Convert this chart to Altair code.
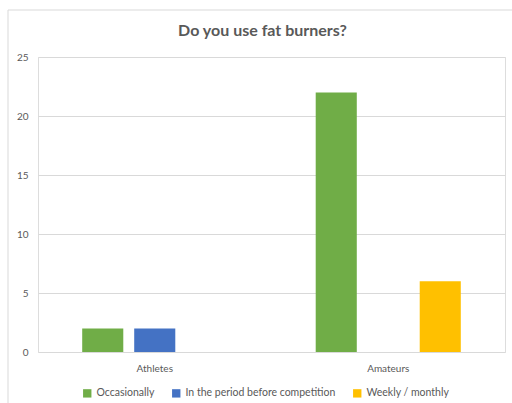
import altair as alt
import pandas as pd

groups = ["Athletes", "Amateurs"]
series = ["Occasionally", "In the period before competition", "Weekly / monthly"]
athletes = [2, 2, 0]
amateurs = [22, 0, 6]
colors = ["#70AD47", "#4472C4", "#FFC000"]

rows = []
for g, vals in zip(groups, [athletes, amateurs]):
    for s, v in zip(series, vals):
        rows.append({"group": g, "series": s, "value": v})
df = pd.DataFrame(rows)

FONT = "Lato"
TXT = "#595959"

bars = alt.Chart(df).mark_bar().encode(
    x=alt.X("group:N", sort=groups, title=None,
            scale=alt.Scale(paddingInner=0, paddingOuter=0),
            axis=alt.Axis(labelAngle=0, ticks=False, domain=False, labelPadding=11,
                          labelFontSize=10, labelColor=TXT, labelFont=FONT)),
    xOffset=alt.XOffset("series:N", sort=series,
                        scale=alt.Scale(paddingInner=0.21, paddingOuter=0.85)),
    y=alt.Y("value:Q", title=None,
            scale=alt.Scale(domain=[0, 25]),
            axis=alt.Axis(values=[0, 5, 10, 15, 20, 25], ticks=False, domain=False,
                          labelPadding=10, labelFontSize=10, labelColor=TXT, labelFont=FONT,
                          gridColor="#d9d9d9", gridWidth=1)),
    color=alt.Color("series:N", sort=series,
                    scale=alt.Scale(domain=series, range=colors),
                    legend=alt.Legend(title=None, orient="none", direction="horizontal",
                                      legendX=44, legendY=331, symbolType="square",
                                      symbolSize=70, symbolStrokeWidth=0,
                                      labelFontSize=10.5, labelColor=TXT, labelFont=FONT,
                                      columnPadding=16, labelOffset=4)),
)

border = pd.DataFrame({"a": [0]})
top_line = alt.Chart(border).mark_rule(color="#d9d9d9", strokeWidth=1).encode(
    x=alt.value(-30), x2=alt.value(480), y=alt.value(-47))
left_line = alt.Chart(border).mark_rule(color="#d9d9d9", strokeWidth=1).encode(
    x=alt.value(-30), y=alt.value(-47), y2=alt.value(350))

chart = alt.layer(top_line, left_line, bars).properties(
    width=467, height=295,
    padding={"left": 38, "top": 57, "right": 7, "bottom": 51},
    autosize=alt.AutoSizeParams(type="none"),
    title=alt.TitleParams("Do you use fat burners?", fontSize=16, font=FONT,
                          fontWeight="bold", color=TXT, offset=-29, dx=-9),
).configure_view(stroke=None).configure(background="white")

chart.save("out.html", embed_options={"renderer": "svg", "actions": False})
